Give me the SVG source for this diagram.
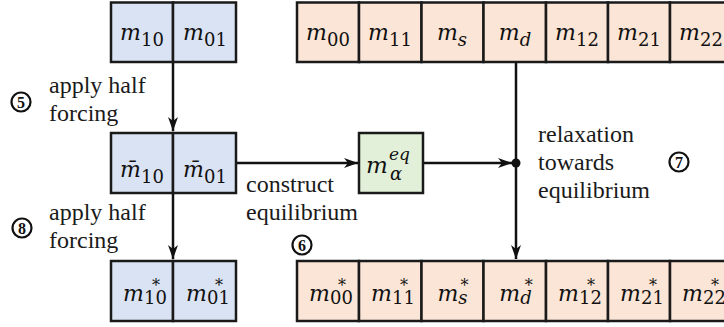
<svg xmlns="http://www.w3.org/2000/svg" width="724" height="327" viewBox="0 0 724 327">
<style>
.b{fill:#dae3f3;stroke:#1a1a1a;stroke-width:2.5}
.o{fill:#fbe5d6;stroke:#1a1a1a;stroke-width:2.5}
.g{fill:#e2f0d9;stroke:#1a1a1a;stroke-width:2.5}
.m{font-family:"DejaVu Serif",serif;font-style:italic;font-size:22px;fill:#111;text-anchor:middle}
.sub{font-style:normal;font-size:18px}
.isub{font-style:italic;font-size:18px}
.st{font-style:normal;font-size:16px}
.lbl{font-family:"Liberation Serif","Times New Roman",serif;font-size:24px;fill:#1a1a1a}
.cn{fill:none;stroke:#111;stroke-width:2.2}
.num{font-family:"Liberation Serif","Times New Roman",serif;font-weight:bold;font-size:16px;fill:#111;text-anchor:middle}
.ln{stroke:#111;stroke-width:2.5;fill:none}
</style>
<defs>
<marker id="ah" markerUnits="userSpaceOnUse" markerWidth="14" markerHeight="10" refX="14" refY="5" orient="auto">
<path d="M0,0 L14,5 L0,10 L4,5 z" fill="#111"/>
</marker>
</defs>

<g id="connectors">
<line class="ln" x1="173" y1="62" x2="173" y2="131" marker-end="url(#ah)"/>
<line class="ln" x1="173" y1="193" x2="173" y2="259" marker-end="url(#ah)"/>
<line class="ln" x1="236" y1="163" x2="358" y2="163" marker-end="url(#ah)"/>
<line class="ln" x1="423" y1="163" x2="512" y2="163" marker-end="url(#ah)"/>
<line class="ln" x1="516" y1="62" x2="516" y2="259" marker-end="url(#ah)"/>
<circle cx="516" cy="163" r="4.5" fill="#111"/>
</g>

<g id="blue-top">
<rect class="b" x="111" y="2.5" width="62" height="59.5"/>
<rect class="b" x="173" y="2.5" width="63" height="59.5"/>
<text class="m" x="142" y="40">m<tspan class="sub" dy="6">10</tspan></text>
<text class="m" x="205" y="40">m<tspan class="sub" dy="6">01</tspan></text>
</g>

<g id="blue-mid">
<rect class="b" x="111" y="133" width="62" height="60"/>
<rect class="b" x="173" y="133" width="63" height="60"/>
<text class="m" x="142" y="177">m̄<tspan class="sub" dy="6">10</tspan></text>
<text class="m" x="205" y="177">m̄<tspan class="sub" dy="6">01</tspan></text>
</g>

<g id="blue-bottom">
<rect class="b" x="111" y="261" width="62" height="60"/>
<rect class="b" x="173" y="261" width="63" height="60"/>
<text class="m" x="145" y="301">m<tspan class="sub" dy="3">10</tspan><tspan class="st" dx="-15" dy="-13">*</tspan></text>
<text class="m" x="208" y="301">m<tspan class="sub" dy="3">01</tspan><tspan class="st" dx="-15" dy="-13">*</tspan></text>
</g>

<g id="green-eq">
<rect class="g" x="359" y="133" width="64" height="60"/>
<text class="m" x="366" y="173" style="text-anchor:start;font-size:23px">m</text>
<text class="m" x="389" y="160" style="text-anchor:start;font-size:17px">eq</text>
<text class="m" x="390" y="180" style="text-anchor:start;font-size:18px">α</text>
</g>

<g id="orange-top">
<rect class="o" x="297" y="2.5" width="62" height="59.5"/>
<rect class="o" x="359" y="2.5" width="62.5" height="59.5"/>
<rect class="o" x="421.5" y="2.5" width="62" height="59.5"/>
<rect class="o" x="483.5" y="2.5" width="62.5" height="59.5"/>
<rect class="o" x="546" y="2.5" width="62" height="59.5"/>
<rect class="o" x="608" y="2.5" width="62" height="59.5"/>
<rect class="o" x="670" y="2.5" width="62" height="59.5"/>
<text class="m" x="328" y="40">m<tspan class="sub" dy="6">00</tspan></text>
<text class="m" x="390" y="40">m<tspan class="sub" dy="6">11</tspan></text>
<text class="m" x="452" y="40">m<tspan class="isub" dy="6">s</tspan></text>
<text class="m" x="515" y="40">m<tspan class="isub" dy="6">d</tspan></text>
<text class="m" x="577" y="40">m<tspan class="sub" dy="6">12</tspan></text>
<text class="m" x="639" y="40">m<tspan class="sub" dy="6">21</tspan></text>
<text class="m" x="701" y="40">m<tspan class="sub" dy="6">22</tspan></text>
</g>

<g id="orange-bottom">
<rect class="o" x="297" y="261" width="62" height="60"/>
<rect class="o" x="359" y="261" width="62.5" height="60"/>
<rect class="o" x="421.5" y="261" width="62" height="60"/>
<rect class="o" x="483.5" y="261" width="62.5" height="60"/>
<rect class="o" x="546" y="261" width="62" height="60"/>
<rect class="o" x="608" y="261" width="62" height="60"/>
<rect class="o" x="670" y="261" width="62" height="60"/>
<text class="m" x="331" y="301">m<tspan class="sub" dy="3">00</tspan><tspan class="st" dx="-15" dy="-13">*</tspan></text>
<text class="m" x="393" y="301">m<tspan class="sub" dy="3">11</tspan><tspan class="st" dx="-15" dy="-13">*</tspan></text>
<text class="m" x="453" y="301">m<tspan class="isub" dy="3">s</tspan><tspan class="st" dx="-7" dy="-13">*</tspan></text>
<text class="m" x="516" y="301">m<tspan class="isub" dy="3">d</tspan><tspan class="st" dx="-7" dy="-13">*</tspan></text>
<text class="m" x="580" y="301">m<tspan class="sub" dy="3">12</tspan><tspan class="st" dx="-15" dy="-13">*</tspan></text>
<text class="m" x="642" y="301">m<tspan class="sub" dy="3">21</tspan><tspan class="st" dx="-15" dy="-13">*</tspan></text>
<text class="m" x="704" y="301">m<tspan class="sub" dy="3">22</tspan><tspan class="st" dx="-15" dy="-13">*</tspan></text>
</g>

<g id="label-5">
<circle class="cn" cx="21" cy="102" r="9.5"/>
<text class="num" x="21" y="107.5">5</text>
<text class="lbl" x="49" y="93">apply half</text>
<text class="lbl" x="49" y="121">forcing</text>
</g>

<g id="label-8">
<circle class="cn" cx="22" cy="228" r="9.5"/>
<text class="num" x="22" y="233.5">8</text>
<text class="lbl" x="49" y="220">apply half</text>
<text class="lbl" x="49" y="248">forcing</text>
</g>

<g id="label-6">
<text class="lbl" x="246" y="192">construct</text>
<text class="lbl" x="246" y="220">equilibrium</text>
<circle class="cn" cx="302" cy="245" r="9.5"/>
<text class="num" x="302" y="250.5">6</text>
</g>

<g id="label-7">
<text class="lbl" x="538" y="142">relaxation</text>
<text class="lbl" x="538" y="170">towards</text>
<text class="lbl" x="538" y="198">equilibrium</text>
<circle class="cn" cx="679" cy="162" r="9.5"/>
<text class="num" x="679" y="167.5">7</text>
</g>
</svg>
